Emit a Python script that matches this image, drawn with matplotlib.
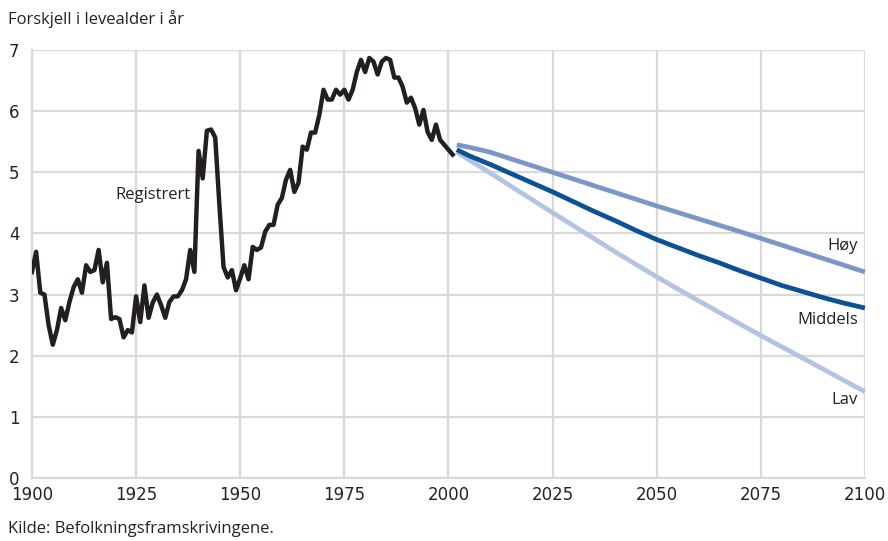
import matplotlib.pyplot as plt
import numpy as np

# Registrert (historical) difference in life expectancy, women minus men
years_hist = np.arange(1900, 2002)
registrert = [
    3.37, 3.70, 3.03, 3.00, 2.50, 2.18, 2.42, 2.78, 2.58, 2.88,
    3.12, 3.25, 3.03, 3.48, 3.37, 3.40, 3.73, 3.20, 3.52, 2.60,
    2.63, 2.60, 2.30, 2.42, 2.38, 2.97, 2.55, 3.15, 2.62, 2.87,
    3.00, 2.83, 2.62, 2.88, 2.97, 2.97, 3.07, 3.25, 3.73, 3.37,
    5.35, 4.90, 5.68, 5.70, 5.57, 4.47, 3.45, 3.28, 3.40, 3.07,
    3.27, 3.48, 3.25, 3.78, 3.73, 3.77, 4.03, 4.14, 4.14, 4.47,
    4.58, 4.88, 5.04, 4.68, 4.83, 5.42, 5.37, 5.65, 5.65, 5.94,
    6.35, 6.19, 6.19, 6.35, 6.27, 6.35, 6.19, 6.35, 6.64, 6.84,
    6.64, 6.87, 6.81, 6.60, 6.81, 6.87, 6.84, 6.55, 6.55, 6.40,
    6.14, 6.22, 6.05, 5.78, 6.02, 5.66, 5.53, 5.78, 5.53, 5.45,
    5.37, 5.29,
]

# Projections
years_hoy = [2002, 2005, 2010, 2015, 2020, 2025, 2030, 2040, 2050, 2060, 2070, 2080, 2090, 2100]
hoy = [5.45, 5.41, 5.33, 5.22, 5.11, 5.00, 4.89, 4.67, 4.45, 4.24, 4.03, 3.81, 3.59, 3.37]

years_mid = [2002, 2005, 2010, 2015, 2020, 2025, 2030, 2035, 2040, 2045, 2050,
             2055, 2060, 2065, 2070, 2075, 2080, 2085, 2090, 2095, 2100]
middels = [5.37, 5.27, 5.13, 4.98, 4.83, 4.68, 4.52, 4.36, 4.21, 4.05, 3.90,
           3.77, 3.64, 3.52, 3.39, 3.27, 3.15, 3.05, 2.95, 2.86, 2.78]

years_lav = [2002, 2010, 2025, 2040, 2050, 2060, 2075, 2090, 2100]
lav = [5.33, 4.99, 4.34, 3.70, 3.29, 2.90, 2.33, 1.78, 1.41]

fig = plt.figure(figsize=(8.88, 5.41), dpi=100)
ax = fig.add_axes([0.036, 0.1165, 0.938, 0.791])
plt.rcParams['font.family'] = ['Open Sans', 'DejaVu Sans']

grid_col = '#d9d9d9'
txt_col = '#222222'
ax.plot(years_lav, lav, color='#b3c3e3', lw=3.4, solid_capstyle='butt', clip_on=False, zorder=3)
ax.plot(years_hoy, hoy, color='#7b97c9', lw=3.4, solid_capstyle='butt', clip_on=False, zorder=3)
ax.plot(years_mid, middels, color='#0b5196', lw=3.4, solid_capstyle='butt', clip_on=False, zorder=4)
ax.plot(years_hist, registrert, color='#231f20', lw=3.2, zorder=5)

ax.set_xlim(1900, 2100)
ax.set_ylim(0, 7)
ax.set_xticks(range(1900, 2101, 25))
ax.set_yticks(range(0, 8))
ax.grid(True, color=grid_col, lw=1.6)
ax.set_axisbelow(True)
for s in ['top', 'right']:
    ax.spines[s].set_visible(False)
for s in ['left', 'bottom']:
    ax.spines[s].set_color(grid_col)
    ax.spines[s].set_linewidth(1.6)
ax.tick_params(length=0, labelsize=12, colors=txt_col)
ax.tick_params(axis='y', pad=9)
ax.tick_params(axis='x', pad=6)

ax.text(1938, 4.63, 'Registrert', ha='right', va='center', fontsize=12, color=txt_col)
ax.text(2098.3, 3.8, 'Høy', ha='right', va='center', fontsize=12, color=txt_col)
ax.text(2098.3, 2.59, 'Middels', ha='right', va='center', fontsize=12, color=txt_col)
ax.text(2098.3, 1.28, 'Lav', ha='right', va='center', fontsize=12, color=txt_col)

fig.text(0.009, 0.965, 'Forskjell i levealder i år', ha='left', va='center', fontsize=12, color=txt_col)
fig.text(0.009, 0.022, 'Kilde: Befolkningsframskrivingene.', ha='left', va='center', fontsize=12, color=txt_col)

fig.savefig('out.png', dpi=100)
